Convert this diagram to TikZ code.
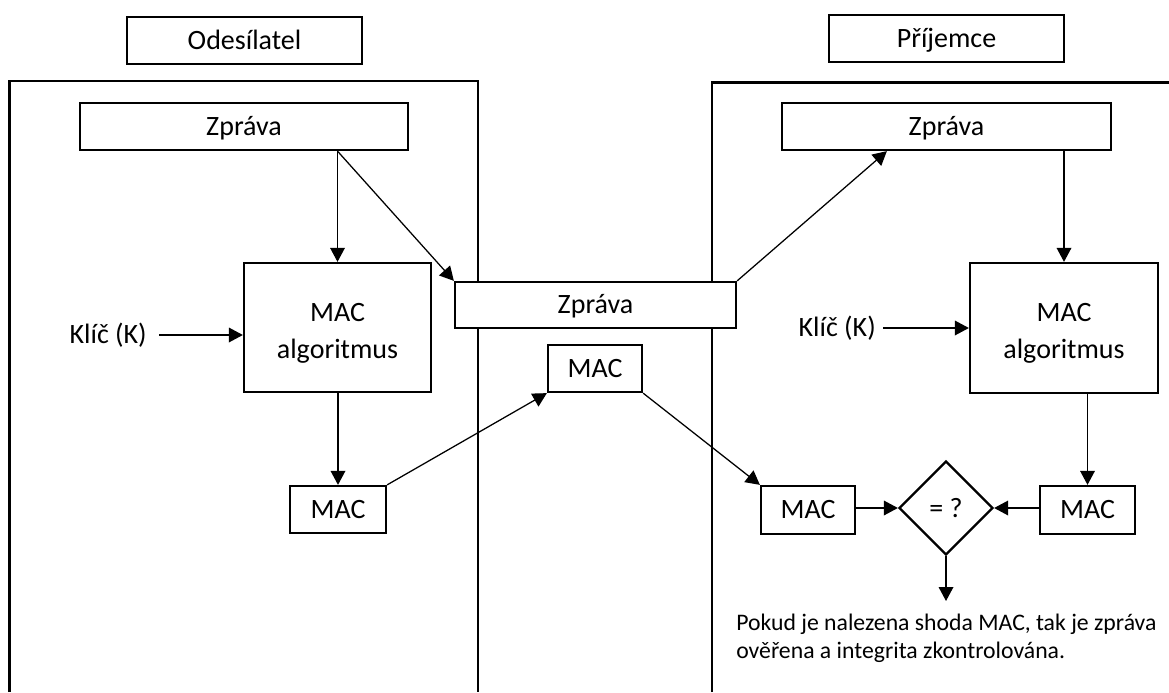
\documentclass[tikz,border=0pt]{standalone}
\usepackage{fontspec}
\setmainfont{Carlito}
\usetikzlibrary{arrows.meta,shapes.geometric,calc}

\begin{document}
\begin{tikzpicture}[x=0.75pt,y=-0.75pt,
  box/.style={draw, line width=1.7pt, fill=white, inner sep=0pt,
    font=\fontsize{21}{27.5}\selectfont, align=center},
  oneline/.style={text height=17pt, text depth=4.2pt},
  panel/.style={line width=1.7pt},
  flow/.style={line width=0.95pt, -{Triangle[length=10.5pt,width=11pt]}},
  lbl/.style={font=\fontsize{21}{25}\selectfont, inner ysep=0pt}]

\useasboundingbox (0,0) rectangle (1169,692);

% sender and receiver areas (open towards the page edges)
\draw[panel] (9.5,692) -- (9.5,81) -- (478,81) -- (478,692);
\draw[panel] (712,692) -- (712,82.5) -- (1169,82.5);

% headings
\node[box, oneline, minimum width=176.25pt, minimum height=35.25pt] (snd) at (244.5,40.5) {Odesílatel};
\node[box, oneline, minimum width=176.25pt, minimum height=35.25pt] (rcv) at (946.5,38.5) {Příjemce};

% sender side
\node[box, oneline, minimum width=246pt, minimum height=35.25pt] (zl) at (244,126.5) {Zpráva};
\node[box, minimum width=140.25pt, minimum height=96.75pt] (algl) at (337.5,327.5) {\rule{0pt}{22pt}MAC\\algoritmus};
\node[box, oneline, minimum width=72pt, minimum height=35.25pt] (macl) at (338,509.5) {MAC};
\node[lbl, inner xsep=9pt, anchor=east] (kl) at (159,335) {Klíč (K)};

% transmitted message
\node[box, oneline, minimum width=210.75pt, minimum height=34.5pt] (mz) at (595.5,305) {Zpráva};
\node[box, oneline, minimum width=70.5pt, minimum height=35.25pt] (mmac) at (595,368.5) {MAC};

% receiver side
\node[box, oneline, minimum width=246.75pt, minimum height=35.25pt] (zr) at (946.5,126.5) {Zpráva};
\node[box, minimum width=141pt, minimum height=97.5pt] (algr) at (1064,328) {\rule{0pt}{22pt}MAC\\algoritmus};
\node[lbl, inner xsep=5.25pt, anchor=east] (kr) at (883,328) {Klíč (K)};
\node[box, oneline, minimum width=70.5pt, minimum height=36pt] (mac1) at (808,510) {MAC};
\node[box, oneline, minimum width=71.25pt, minimum height=36pt] (mac2) at (1087.5,510) {MAC};
\node[box, diamond, aspect=1, minimum size=70.5pt] (cmp) at (946,508) {= ?};
\coordinate (res) at (946,601);
\node[anchor=north west, inner sep=0pt, align=left,
  font=\fontsize{17.8}{21}\selectfont] (note) at (736,614)
  {Pokud je nalezena shoda MAC, tak je zpráva\\ověřena a integrita zkontrolována.};

% connectors
\draw[flow] (zl.south -| algl.north) -- (algl.north);
\draw[flow] (zl.south -| algl.north) -- (mz.north west);
\draw[flow] (kl.east) -- (kl.east -| algl.west);
\draw[flow] (algl.south -| macl.north) -- (macl.north);
\draw[flow] (macl.north east) -- (mmac.south west);
\draw[flow] (mz.north east) -- ($(zr.south west)!0.32!(zr.south east)$);
\draw[flow] (zr.south -| algr.north) -- (algr.north);
\draw[flow] (kr.east) -- (kr.east -| algr.west);
\draw[flow] (mmac.south east) -- (mac1.north west);
\draw[flow] (algr.south -| mac2.north) -- (mac2.north);
\draw[flow] (cmp.west -| mac1.east) -- (cmp.west);
\draw[flow] (cmp.east -| mac2.west) -- (cmp.east);
\draw[flow] (cmp.south) -- (res);
\end{tikzpicture}
\end{document}
